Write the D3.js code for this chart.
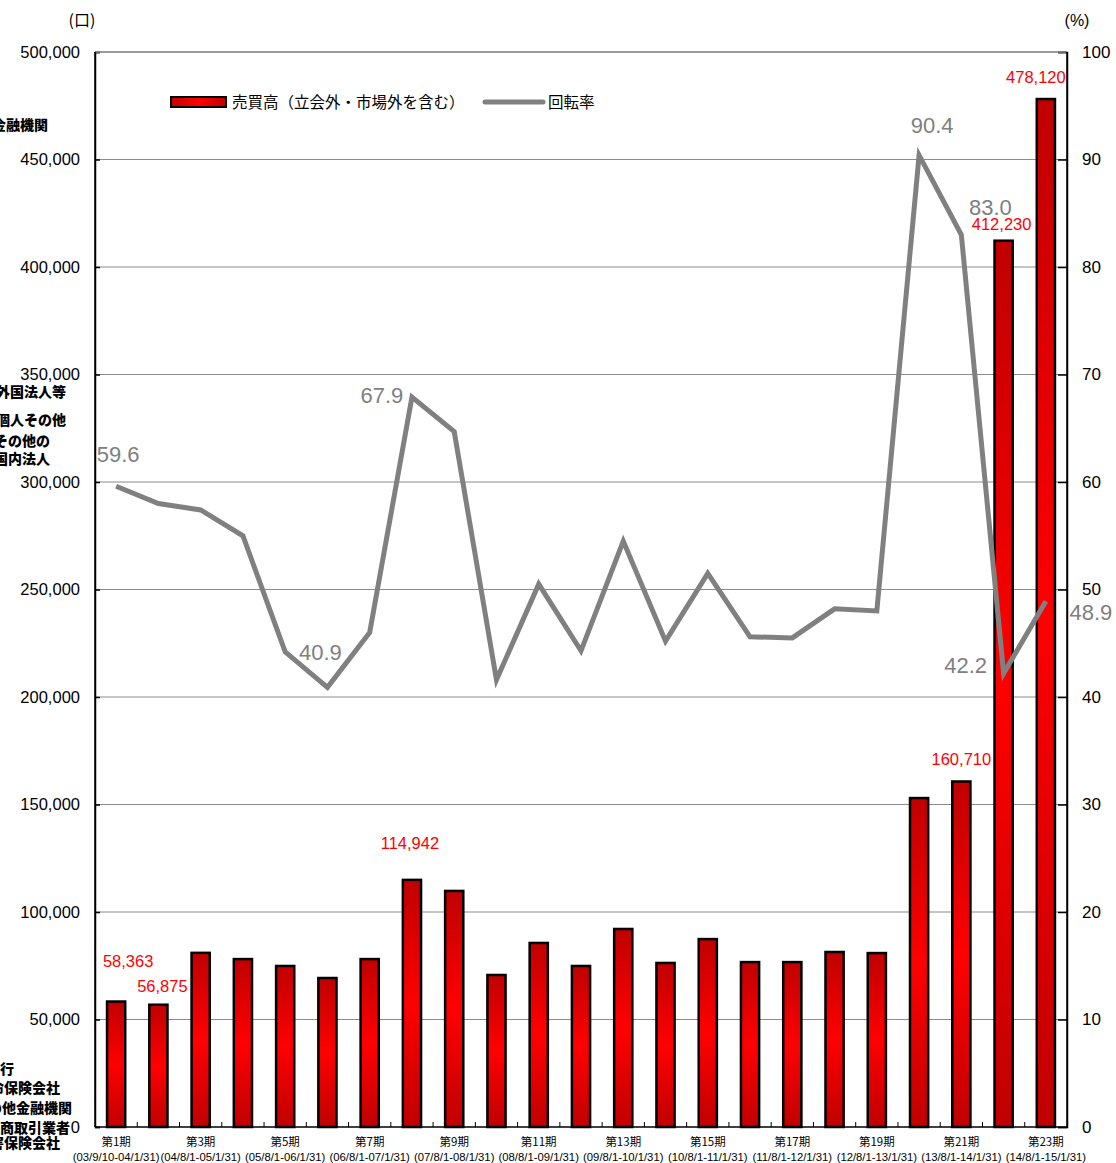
<!DOCTYPE html>
<html>
<head>
<meta charset="utf-8">
<script src="https://cdn.jsdelivr.net/npm/d3@7"></script>
<style>
  html, body { margin: 0; padding: 0; background: #fff; }
  svg { display: block; }
  text { font-family: "Liberation Sans", Arial, "Noto Sans CJK JP", sans-serif; }
  .jp { font-family: "Noto Sans CJK JP", "Liberation Sans", sans-serif; }
</style>
</head>
<body>
<svg id="chart" width="1116" height="1163"></svg>
<script>
// 売買高（口）と回転率（%）— 第1期〜第23期
const periods = d3.range(1, 24);
const periodNames = periods.map(p => `第${p}期`);
const periodRanges = [
  "(03/9/10-04/1/31)", "(04/2/1-04/7/31)", "(04/8/1-05/1/31)", "(05/2/1-05/7/31)",
  "(05/8/1-06/1/31)", "(06/2/1-06/7/31)", "(06/8/1-07/1/31)", "(07/2/1-07/7/31)",
  "(07/8/1-08/1/31)", "(08/2/1-08/7/31)", "(08/8/1-09/1/31)", "(09/2/1-09/7/31)",
  "(09/8/1-10/1/31)", "(10/2/1-10/7/31)", "(10/8/1-11/1/31)", "(11/2/1-11/7/31)",
  "(11/8/1-12/1/31)", "(12/2/1-12/7/31)", "(12/8/1-13/1/31)", "(13/2/1-13/7/31)",
  "(13/8/1-14/1/31)", "(14/2/1-14/7/31)", "(14/8/1-15/1/31)"
];

// 売買高（立会外・市場外を含む）
const volume = [
  58363, 56875, 81000, 78100, 74900, 69300, 78100, 114942, 109800, 70700,
  85600, 74900, 92100, 76300, 87400, 76700, 76700, 81400, 80900, 153000,
  160710, 412230, 478120
];

// 回転率（%）
const turnover = [
  59.6, 58.0, 57.4, 55.0, 44.2, 40.9, 46.0, 67.9, 64.7, 41.6,
  50.5, 44.3, 54.5, 45.2, 51.5, 45.6, 45.5, 48.2, 48.0, 90.4,
  83.0, 42.2, 48.9
];

const leftTicks = d3.range(0, 500001, 50000);
const rightTicks = d3.range(0, 101, 10);

// 値ラベルを付ける期（index）と配置の微調整
const volumeLabelIdx = [0, 1, 7, 20, 21, 22];
const volumeLabelNudge = [[12, -35], [4, -13], [-2, -31], [0, -16], [-2, -11], [-10, -16]];
const turnoverLabelIdx = [0, 5, 7, 19, 20, 21, 22];
const turnoverLabelNudge = [[2, -24], [-7, -27], [-30, 6], [13, -22], [29, -20], [-38, 0], [45, 19]];

// 左端に残る投資部門名
const sideNotes = [
  { t: "金融機関", x: 48, y: 130 },
  { t: "外国法人等", x: 66, y: 397 },
  { t: "個人その他", x: 66, y: 425 },
  { t: "その他の", x: 50, y: 446 },
  { t: "国内法人", x: 50, y: 464 },
  { t: "銀行", x: 14, y: 1074 },
  { t: "生命保険会社", x: 60, y: 1093 },
  { t: "その他金融機関", x: 72, y: 1113 },
  { t: "金融商取引業者", x: 70, y: 1133 },
  { t: "損害保険会社", x: 60, y: 1148 }
];

const svg = d3.select("#chart");
const L = 95, R = 1067, T = 52, B = 1127;

const x = d3.scaleBand().domain(periods).range([L, R]).padding(0);
const yL = d3.scaleLinear().domain([0, 500000]).range([B, T]);
const yR = d3.scaleLinear().domain([0, 100]).range([B, T]);
const cx = i => x(periods[i]) + x.bandwidth() / 2;

// gradients
const defs = svg.append("defs");
const gv = defs.append("linearGradient").attr("id", "barGrad")
  .attr("x1", 0).attr("y1", 0).attr("x2", 0).attr("y2", 1);
gv.append("stop").attr("offset", "0%").attr("stop-color", "#c00000");
gv.append("stop").attr("offset", "50%").attr("stop-color", "#ff0000");
gv.append("stop").attr("offset", "100%").attr("stop-color", "#c00000");
const gh = defs.append("linearGradient").attr("id", "barGradH")
  .attr("x1", 0).attr("y1", 0).attr("x2", 1).attr("y2", 0);
gh.append("stop").attr("offset", "0%").attr("stop-color", "#c00000");
gh.append("stop").attr("offset", "50%").attr("stop-color", "#ff0000");
gh.append("stop").attr("offset", "100%").attr("stop-color", "#c00000");

// gridlines
svg.append("g").selectAll("line").data(leftTicks.filter(d => d > 0)).join("line")
  .attr("x1", L).attr("x2", R)
  .attr("y1", d => yL(d)).attr("y2", d => yL(d))
  .attr("stroke", "#8c8c8c").attr("stroke-width", 1.2);

// left axis
const axL = svg.append("g").attr("transform", `translate(${L},0)`)
  .call(d3.axisLeft(yL).tickValues(leftTicks).tickSize(-5).tickPadding(15)
    .tickFormat(d3.format(",")));
axL.select(".domain").attr("stroke", "#000").attr("stroke-width", 1.5);
axL.selectAll(".tick line").attr("stroke", "#000").attr("stroke-width", 1.5);
axL.selectAll("text").attr("font-size", "16.5px").attr("fill", "#000")
  .style("font-family", '"Liberation Sans", Arial, sans-serif');

// right axis
const axR = svg.append("g").attr("transform", `translate(${R},0)`)
  .call(d3.axisRight(yR).tickValues(rightTicks).tickSize(-9).tickPadding(15));
axR.select(".domain").attr("stroke", "#000").attr("stroke-width", 1.5);
axR.selectAll(".tick line").attr("stroke", "#000").attr("stroke-width", 1.5);
axR.selectAll("text").attr("font-size", "17px").attr("fill", "#000")
  .style("font-family", '"Liberation Sans", Arial, sans-serif');

// bottom axis with small ticks between periods
svg.append("line").attr("x1", L).attr("x2", R).attr("y1", B).attr("y2", B)
  .attr("stroke", "#000").attr("stroke-width", 1.5);
svg.append("g").selectAll("line").data(periods.slice(1)).join("line")
  .attr("x1", d => x(d)).attr("x2", d => x(d))
  .attr("y1", B).attr("y2", B - 5)
  .attr("stroke", "#000").attr("stroke-width", 1);

// bars
const bw = x.bandwidth() * 0.43;
svg.append("g").selectAll("rect").data(volume).join("rect")
  .attr("x", (d, i) => cx(i) - bw / 2)
  .attr("y", d => yL(d))
  .attr("width", bw)
  .attr("height", d => B - yL(d))
  .attr("fill", "url(#barGrad)")
  .attr("stroke", "#000").attr("stroke-width", 2.5);

// turnover line
const line = d3.line().x((d, i) => cx(i)).y(d => yR(d));
svg.append("path").datum(turnover)
  .attr("d", line)
  .attr("fill", "none").attr("stroke", "#808080")
  .attr("stroke-width", 5).attr("stroke-linejoin", "miter");

// frame top & axis lines on top
svg.append("line").attr("x1", L).attr("x2", R).attr("y1", T).attr("y2", T)
  .attr("stroke", "#8c8c8c").attr("stroke-width", 1.5);
svg.append("line").attr("x1", L).attr("x2", L).attr("y1", T).attr("y2", B)
  .attr("stroke", "#000").attr("stroke-width", 1.5);
svg.append("line").attr("x1", R).attr("x2", R).attr("y1", T).attr("y2", B)
  .attr("stroke", "#000").attr("stroke-width", 1.5);

// value labels
svg.append("g").selectAll("text").data(volumeLabelIdx).join("text")
  .attr("x", (d, k) => cx(d) + volumeLabelNudge[k][0])
  .attr("y", (d, k) => yL(volume[d]) + volumeLabelNudge[k][1])
  .attr("text-anchor", "middle").attr("font-size", "16.5px").attr("fill", "#ff0000")
  .text(d => d3.format(",")(volume[d]));

svg.append("g").selectAll("text").data(turnoverLabelIdx).join("text")
  .attr("x", (d, k) => cx(d) + turnoverLabelNudge[k][0])
  .attr("y", (d, k) => yR(turnover[d]) + turnoverLabelNudge[k][1])
  .attr("text-anchor", "middle").attr("font-size", "22px").attr("fill", "#808080")
  .text(d => d3.format(".1f")(turnover[d]));

// category labels (odd periods)
const catG = svg.append("g");
periods.forEach((p, i) => {
  if (p % 2 === 0) return;
  catG.append("text").attr("class", "jp")
    .attr("x", cx(i)).attr("y", 1146).attr("text-anchor", "middle")
    .attr("font-size", "11.5px").attr("fill", "#000").text(periodNames[i]);
  catG.append("text")
    .attr("x", cx(i)).attr("y", 1161).attr("text-anchor", "middle")
    .attr("font-size", "11.3px").attr("fill", "#000").text(periodRanges[i]);
});

// units
svg.append("text").attr("class", "jp").attr("x", 82).attr("y", 26).attr("text-anchor", "middle")
  .attr("font-size", "16px").attr("fill", "#000").text("(口)");
svg.append("text").attr("x", 1077).attr("y", 26).attr("text-anchor", "middle")
  .attr("font-size", "16px").attr("fill", "#000").text("(%)");

// legend
const lg = svg.append("g");
lg.append("rect").attr("x", 171).attr("y", 97).attr("width", 55).attr("height", 10)
  .attr("fill", "url(#barGradH)").attr("stroke", "#000").attr("stroke-width", 2);
lg.append("text").attr("class", "jp").attr("x", 232).attr("y", 108)
  .attr("font-size", "15.5px").attr("fill", "#000").text("売買高（立会外・市場外を含む）");
lg.append("line").attr("x1", 485).attr("x2", 543).attr("y1", 102).attr("y2", 102)
  .attr("stroke", "#808080").attr("stroke-width", 5).attr("stroke-linecap", "round");
lg.append("text").attr("class", "jp").attr("x", 548).attr("y", 108)
  .attr("font-size", "15.5px").attr("fill", "#000").text("回転率");

// side notes (partly outside the left edge)
svg.append("g").selectAll("text").data(sideNotes).join("text")
  .attr("class", "jp")
  .attr("x", d => d.x).attr("y", d => d.y).attr("text-anchor", "end")
  .attr("font-size", "14px").attr("font-weight", "900").attr("fill", "#000")
  .text(d => d.t);
</script>
</body>
</html>
